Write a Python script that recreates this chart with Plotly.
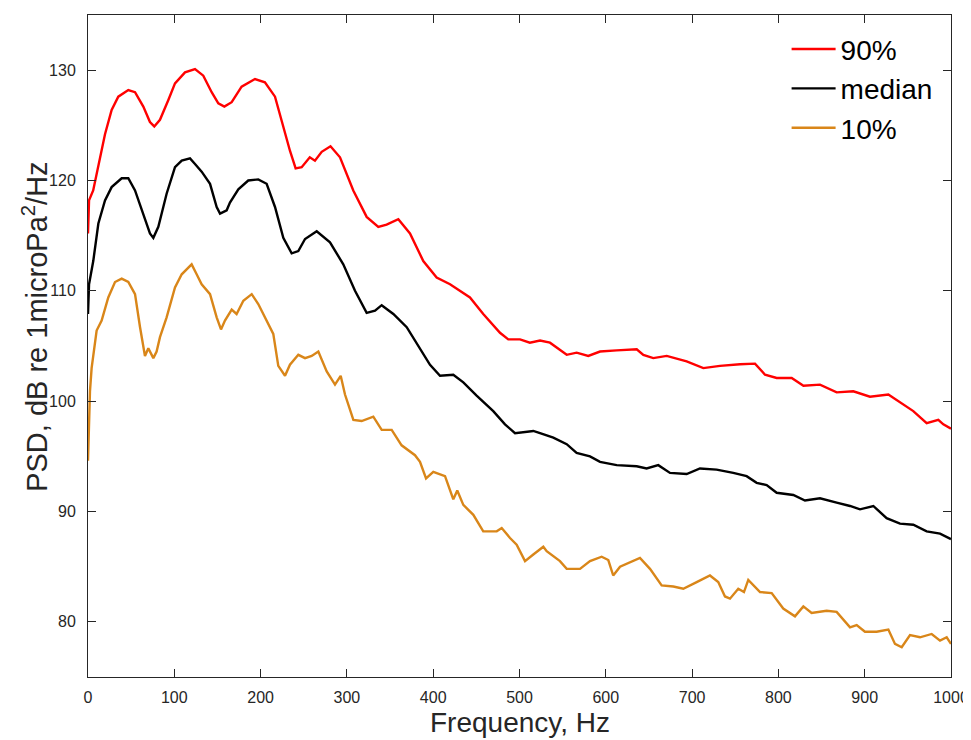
import plotly.graph_objects as go

# ---- data ----
freq_p90 = [0, 1.2, 6, 12, 19.7, 27.4, 35.1, 46.7, 54.5, 64.1, 71.8, 76.8, 83.4, 93.1, 100.8,
            112.4, 124, 133.6, 143.3, 151, 158, 166.5, 178, 193.5, 205, 216.7, 226.3, 234,
            240.6, 247.6, 257, 263, 270.8, 281, 292, 307.4, 322.9, 336.4, 346, 359.6, 373.1,
            388.5, 404, 419.5, 442.6, 458, 477.4, 487, 500.6, 512, 523.8, 535.3, 554.7, 566.2,
            579.7, 593.3, 612.6, 635.8, 643.5, 655, 670.6, 693.7, 713, 732.3, 755.5, 772.9,
            784.5, 798, 815.4, 829, 848.2, 867.5, 886.8, 906.1, 927.4, 944.8, 956.3, 971.8,
            985.3, 991.1, 1000]
psd_p90 = [115.2, 118.2, 119.1, 121.2, 124.2, 126.4, 127.6, 128.2, 128.0, 126.7, 125.3, 124.9,
           125.5, 127.3, 128.8, 129.8, 130.1, 129.5, 128.0, 127.0, 126.7, 127.1, 128.5, 129.2,
           128.9, 127.6, 124.8, 122.7, 121.1, 121.2, 122.1, 121.8, 122.6, 123.1, 122.1, 119.1,
           116.7, 115.8, 116.0, 116.5, 115.2, 112.7, 111.2, 110.6, 109.4, 107.9, 106.2, 105.6,
           105.6, 105.3, 105.5, 105.3, 104.2, 104.4, 104.1, 104.5, 104.6, 104.7, 104.2, 103.9,
           104.1, 103.6, 103.0, 103.2, 103.35, 103.4, 102.4, 102.1, 102.1, 101.4, 101.5, 100.8,
           100.9, 100.4, 100.6, 99.7, 99.1, 98.0, 98.3, 97.9, 97.5]

freq_med = [0, 1.2, 6.1, 12, 19.7, 27.4, 39, 46.7, 54.5, 64.1, 71.8, 75.7, 81.5, 91.1, 100.8,
            108.6, 118.2, 124, 131.7, 141.4, 149.1, 153, 160.7, 164.5, 174.2, 185.7, 197.3, 207,
            216.7, 226.3, 236, 243.7, 251.5, 265, 280.4, 295.8, 309.4, 322.9, 332.6, 340.3,
            353.8, 369.3, 380.8, 396.3, 407.9, 423.3, 434.9, 450.3, 469.6, 483.2, 494.8, 516,
            523.8, 539.2, 554.7, 566.2, 581.7, 593.3, 612.6, 635.8, 647.3, 660.8, 674.4, 693.7,
            709.1, 728.4, 747.7, 763.2, 774.8, 786.4, 798, 817.3, 830.8, 848.2, 867.5, 883,
            894.6, 910, 925.4, 940.9, 956.3, 971.8, 987.3, 1000]
psd_med = [107.9, 110.6, 112.7, 116.1, 118.2, 119.4, 120.2, 120.2, 119.1, 117.0, 115.2, 114.8,
           115.8, 118.8, 121.2, 121.8, 122.0, 121.5, 120.8, 119.7, 117.6, 117.0, 117.3, 118.0,
           119.2, 120.0, 120.1, 119.7, 117.6, 114.8, 113.4, 113.6, 114.7, 115.4, 114.4, 112.4,
           110.0, 108.0, 108.2, 108.7, 107.9, 106.7, 105.3, 103.3, 102.3, 102.4, 101.7, 100.5,
           99.1, 97.9, 97.1, 97.3, 97.1, 96.7, 96.1, 95.3, 95.0, 94.5, 94.2, 94.1, 93.9, 94.2,
           93.5, 93.4, 93.9, 93.8, 93.5, 93.2, 92.6, 92.4, 91.7, 91.5, 91.0, 91.2, 90.8, 90.5,
           90.2, 90.5, 89.4, 88.9, 88.8, 88.2, 88.0, 87.5]

freq_p10 = [0, 2.3, 4.2, 10, 15.8, 23.5, 31.3, 39, 46.7, 54.5, 60.3, 66, 69.9, 75.7, 79.5, 83.4,
            91.1, 100.8, 108.6, 120.1, 125.9, 131.7, 141.4, 149.1, 154.1, 158.7, 166.5, 172.2,
            180, 189.7, 197.3, 207, 214.7, 220.5, 228.3, 234, 243.7, 251.5, 259.2, 266.9, 276.6,
            286.2, 292.8, 297.8, 307.5, 317.1, 330.6, 340.3, 351.9, 363.4, 378.9, 384.7, 391.7,
            400.1, 413.7, 423.3, 427.9, 434.9, 446.5, 458, 473.6, 479.4, 489, 496.7, 506.4, 516,
            527.6, 531.5, 546.9, 554.7, 570.1, 581.7, 595.2, 602.9, 608.6, 616.5, 629.9, 639.6,
            651.2, 664.7, 678.2, 689.8, 705.3, 720.7, 730.3, 738.1, 743.9, 753.5, 760.1, 765.1,
            778.7, 792.2, 805.6, 819.2, 828.9, 838.5, 855.9, 867.5, 883, 890.7, 900.3, 913.8,
            927.4, 935.1, 942.9, 952.5, 964.1, 977.6, 987.3, 995, 1000]
psd_p10 = [94.6, 100.9, 103.0, 106.4, 107.3, 109.4, 110.8, 111.1, 110.8, 109.7, 106.7, 104.1,
           104.8, 103.9, 104.5, 105.8, 107.6, 110.3, 111.5, 112.4, 111.5, 110.6, 109.7, 107.6,
           106.5, 107.3, 108.3, 107.9, 109.1, 109.7, 108.8, 107.3, 106.1, 103.2, 102.3, 103.3,
           104.2, 103.9, 104.1, 104.5, 102.7, 101.5, 102.3, 100.6, 98.3, 98.2, 98.6, 97.4, 97.4,
           96.0, 95.1, 94.5, 93.0, 93.6, 93.2, 91.1, 91.9, 90.6, 89.7, 88.2, 88.2, 88.5, 87.6,
           87.0, 85.5, 86.1, 86.8, 86.4, 85.5, 84.8, 84.8, 85.5, 85.9, 85.6, 84.2, 85.0, 85.5,
           85.8, 84.8, 83.3, 83.2, 83.0, 83.6, 84.2, 83.6, 82.3, 82.1, 83.0, 82.7, 83.8, 82.7,
           82.6, 81.2, 80.5, 81.4, 80.8, 81.0, 80.9, 79.5, 79.7, 79.1, 79.1, 79.3, 78.0, 77.7,
           78.8, 78.6, 78.9, 78.3, 78.6, 78.0]

series_names = ["90%", "median", "10%"]
x_ticks = [0, 100, 200, 300, 400, 500, 600, 700, 800, 900, 1000]
y_ticks = [80, 90, 100, 110, 120, 130]
x_title = "Frequency, Hz"
y_title = "PSD, dB re 1microPa<sup>2</sup>/Hz"

fig = go.Figure()
for name, xs, ys, col in [
    (series_names[0], freq_p90, psd_p90, "#FF0000"),
    (series_names[1], freq_med, psd_med, "#000000"),
    (series_names[2], freq_p10, psd_p10, "#D98619"),
]:
    fig.add_trace(go.Scatter(x=xs, y=ys, mode="lines", name=name,
                             line=dict(color=col, width=2.4)))

axis_common = dict(
    showline=True, linecolor="#262626", linewidth=1, mirror="allticks",
    ticks="inside", ticklen=8, tickcolor="#262626", showgrid=False, zeroline=False,
    automargin=False,
    tickfont=dict(family="Liberation Sans, Arial, sans-serif", size=16, color="#262626"),
)

# page has an 8px body margin, so the figure is sized 8px smaller on each side
fig.update_layout(
    width=963, height=732,
    paper_bgcolor="white", plot_bgcolor="white",
    margin=dict(l=80, r=20, t=7, b=63, autoexpand=False),
    font=dict(family="Liberation Sans, Arial, sans-serif"),
    xaxis=dict(range=[0, 1000], tickvals=x_ticks, ticklabelstandoff=6, **axis_common),
    yaxis=dict(range=[75, 135], tickvals=y_ticks, ticklabelstandoff=8, **axis_common),
    legend=dict(x=0.8095, xanchor="left", y=0.986, yanchor="top",
                font=dict(size=28, color="#000000"), bgcolor="rgba(0,0,0,0)",
                borderwidth=0, itemwidth=44, tracegroupgap=0),
    showlegend=True,
    annotations=[
        dict(text=x_title, xref="paper", yref="paper", x=0.5, y=-0.068,
             xanchor="center", yanchor="middle", showarrow=False,
             font=dict(size=28, color="#262626")),
        dict(text=y_title, xref="paper", yref="paper", x=-0.0614, y=0.529,
             xanchor="center", yanchor="middle", textangle=-90, showarrow=False,
             font=dict(size=29, color="#262626")),
    ],
)

fig.write_html("out.html")
